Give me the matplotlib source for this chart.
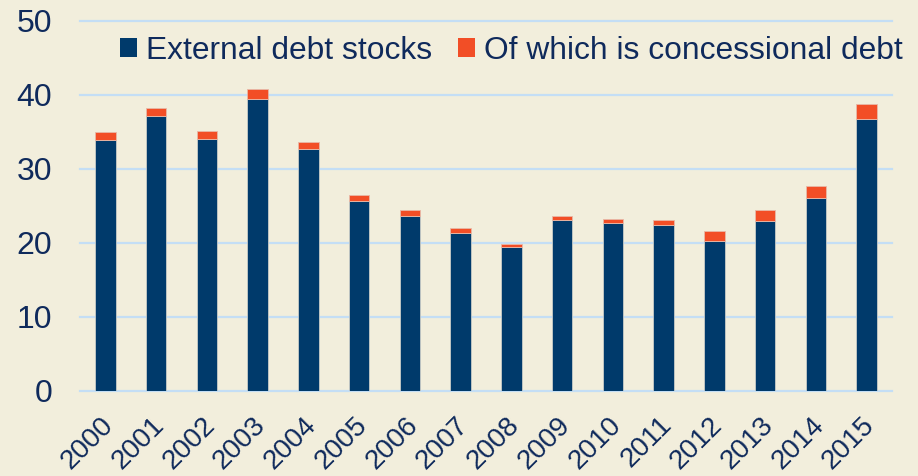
import matplotlib
matplotlib.use("Agg")
import matplotlib.pyplot as plt
import matplotlib.transforms as mtransforms
from matplotlib.patches import Patch

# External debt series, share of GDP (%)
years = ["2000", "2001", "2002", "2003", "2004", "2005", "2006", "2007",
         "2008", "2009", "2010", "2011", "2012", "2013", "2014", "2015"]
external_debt = [33.9, 37.1, 34.05, 39.4, 32.7, 25.7, 23.7, 21.4,
                 19.4, 23.1, 22.7, 22.4, 20.3, 23.0, 26.1, 36.7]
concessional = [1.1, 1.1, 1.15, 1.4, 1.0, 0.8, 0.7, 0.6,
                0.5, 0.55, 0.5, 0.7, 1.3, 1.5, 1.6, 2.1]
y_ticks = [0, 10, 20, 30, 40, 50]

BG = "#f2eedc"
NAVY = "#003a6b"
ORANGE = "#f24e26"
GRID = "#c4def5"
TEXT = "#0f2a5c"

plt.rcParams["font.family"] = ["Liberation Sans", "DejaVu Sans"]

fig = plt.figure(figsize=(9.18, 4.76), dpi=100, facecolor=BG)
ax = fig.add_axes([80 / 918, 85 / 476, 812 / 918, 370 / 476], facecolor=BG)

x = list(range(len(years)))
ax.bar(x, external_debt, width=0.4, color=NAVY, edgecolor="#c9ccc8",
       linewidth=0.6, zorder=3)
ax.bar(x, concessional, width=0.4, bottom=external_debt, color=ORANGE,
       edgecolor="#e8b9a8", linewidth=0.6, zorder=3)

ax.set_xlim(-0.5, len(years) - 0.5)
ax.set_ylim(0, 50)
ax.set_yticks(y_ticks)
ax.set_yticklabels([str(v) for v in y_ticks])
ax.yaxis.grid(True, color=GRID, linewidth=1.6, zorder=0)
for gl in ax.get_ygridlines():
    gl.set_clip_on(False)
ax.set_axisbelow(True)
for s in ax.spines.values():
    s.set_visible(False)

ax.tick_params(axis="y", length=0, pad=20, labelsize=23, labelcolor=TEXT)
ax.tick_params(axis="x", length=0, pad=15, labelsize=20, labelcolor=TEXT)
ax.set_xticks(x)
ax.set_xticklabels(years, rotation=45, ha="right", va="top",
                   rotation_mode="anchor")
shift = mtransforms.ScaledTranslation(-5 / 100, 0, fig.dpi_scale_trans)
for lbl in ax.get_xticklabels():
    lbl.set_transform(lbl.get_transform() + shift)

handles = [Patch(facecolor=NAVY, edgecolor="none"),
           Patch(facecolor=ORANGE, edgecolor="none")]
fig.legend(handles, ["External debt stocks", "Of which is concessional debt"],
           loc="center left", bbox_to_anchor=(120 / 918, 1 - 51 / 476),
           ncol=2, frameon=False, fontsize=22.85, labelcolor=TEXT,
           handlelength=0.55, handleheight=0.55, handletextpad=0.27,
           columnspacing=0.8, borderpad=0, borderaxespad=0)

fig.savefig("out.png", dpi=100, facecolor=BG)
